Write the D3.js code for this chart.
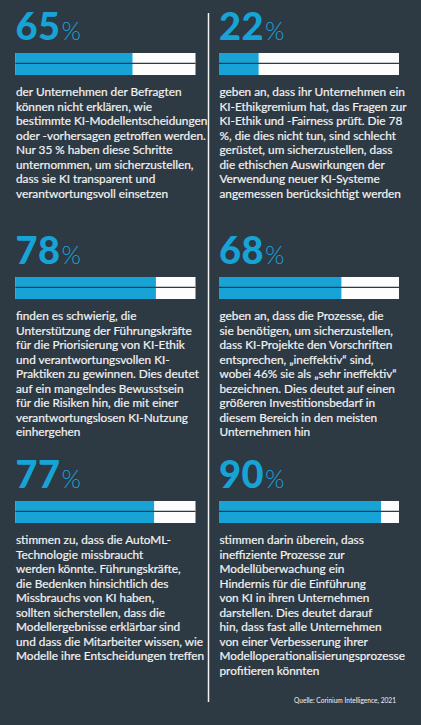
<!DOCTYPE html>
<html>
<head>
<meta charset="utf-8">
<script src="https://cdn.jsdelivr.net/npm/d3@7"></script>
<style>
  body { margin: 0; background: #2d3943; }
  svg { display: block; }
  .num { font-family: Lato, sans-serif; font-weight: 900; fill: #17a3d6; }
  .pct { font-family: Lato, sans-serif; font-weight: 300; fill: #17a3d6; }
  .body-text { font-family: Lato, sans-serif; fill: #f2f2f2; stroke: #f2f2f2; stroke-width: 0.2; }
  .source { font-family: Lato, sans-serif; fill: #f2f2f2; }
</style>
</head>
<body>
<div id="chart"></div>
<script>
// values shown in the six panels (percent)
const values = [65, 22, 78, 68, 77, 90];

// description under each bar, one entry per line as in the original
const texts = [
  ["der Unternehmen der Befragten",
   "können nicht erklären, wie",
   "bestimmte KI-Modellentscheidungen",
   "oder -vorhersagen getroffen werden.",
   "Nur 35 % haben diese Schritte",
   "unternommen, um sicherzustellen,",
   "dass sie KI transparent und",
   "verantwortungsvoll einsetzen"],
  ["geben an, dass ihr Unternehmen ein",
   "KI-Ethikgremium hat, das Fragen zur",
   "KI-Ethik und -Fairness prüft. Die 78",
   "%, die dies nicht tun, sind schlecht",
   "gerüstet, um sicherzustellen, dass",
   "die ethischen Auswirkungen der",
   "Verwendung neuer KI-Systeme",
   "angemessen berücksichtigt werden"],
  ["finden es schwierig, die",
   "Unterstützung der Führungskräfte",
   "für die Priorisierung von KI-Ethik",
   "und verantwortungsvollen KI-",
   "Praktiken zu gewinnen. Dies deutet",
   "auf ein mangelndes Bewusstsein",
   "für die Risiken hin, die mit einer",
   "verantwortungslosen KI-Nutzung",
   "einhergehen"],
  ["geben an, dass die Prozesse, die",
   "sie benötigen, um sicherzustellen,",
   "dass KI-Projekte den Vorschriften",
   "entsprechen, „ineffektiv“ sind,",
   "wobei 46% sie als „sehr ineffektiv“",
   "bezeichnen. Dies deutet auf einen",
   "größeren Investitionsbedarf in",
   "diesem Bereich in den meisten",
   "Unternehmen hin"],
  ["stimmen zu, dass die AutoML-",
   "Technologie missbraucht",
   "werden könnte. Führungskräfte,",
   "die Bedenken hinsichtlich des",
   "Missbrauchs von KI haben,",
   "sollten sicherstellen, dass die",
   "Modellergebnisse erklärbar sind",
   "und dass die Mitarbeiter wissen, wie",
   "Modelle ihre Entscheidungen treffen"],
  ["stimmen darin überein, dass",
   "ineffiziente Prozesse zur",
   "Modellüberwachung ein",
   "Hindernis für die Einführung",
   "von KI in ihren Unternehmen",
   "darstellen. Dies deutet darauf",
   "hin, dass fast alle Unternehmen",
   "von einer Verbesserung ihrer",
   "Modelloperationalisierungsprozesse",
   "profitieren könnten"]
];

const source = "Quelle: Corinium Intelligence, 2021";

const width = 421,
    height = 725,
    colX = [15.5, 219],
    rowY = [0, 224, 448],
    barW = 180,
    barH = 22,
    lineH = 14.5,
    blue = "#17a3d6",
    bg = "#2d3943";

const svg = d3.select("#chart").append("svg")
    .attr("width", width)
    .attr("height", height);

svg.append("rect")
    .attr("width", width)
    .attr("height", height)
    .attr("fill", bg);

// x scale for the bars
const xScale = d3.scaleLinear().domain([0, 100]).range([0, barW]);

// vertical divider between the columns
svg.append("line")
    .attr("x1", 208.5).attr("x2", 208.5)
    .attr("y1", 13).attr("y2", 702)
    .attr("stroke", "#f2f2f2")
    .attr("stroke-width", 1.5);

const panels = svg.selectAll("g.panel")
    .data(values.map((v, i) => ({value: v, lines: texts[i], i: i})))
    .enter().append("g")
    .attr("class", "panel")
    .attr("transform", (d) => "translate(" + colX[d.i % 2] + "," + rowY[Math.floor(d.i / 2)] + ")");

// big number
const num = panels.append("text")
    .attr("x", 0)
    .attr("y", 40);
num.append("tspan")
    .attr("class", "num")
    .attr("font-size", 38)
    .attr("letter-spacing", 0.5)
    .text((d) => d.value);
num.append("tspan")
    .attr("class", "pct")
    .attr("font-size", 25)
    .attr("dx", 1)
    .text("%");

// bar: white track, blue value, thin dark split in the middle
panels.append("rect")
    .attr("x", xScale(0))
    .attr("y", 53)
    .attr("width", xScale(100))
    .attr("height", barH)
    .attr("fill", "#fdfdfd");

panels.append("rect")
    .attr("x", xScale(0))
    .attr("y", 53)
    .attr("width", (d) => xScale(d.value))
    .attr("height", barH)
    .attr("fill", blue);

panels.append("line")
    .attr("x1", xScale(0))
    .attr("x2", xScale(100))
    .attr("y1", 63.3)
    .attr("y2", 63.3)
    .attr("stroke", bg)
    .attr("stroke-width", 1.2);

// description
panels.append("text")
    .attr("class", "body-text")
    .attr("font-size", 11.8)
    .selectAll("tspan")
    .data((d) => d.lines)
    .enter().append("tspan")
    .attr("x", 0.5)
    .attr("y", (d, j) => 96 + j * lineH)
    .text((d) => d);

svg.append("text")
    .attr("class", "source")
    .attr("x", 396)
    .attr("y", 703)
    .attr("text-anchor", "end")
    .attr("font-size", 6.6)
    .text(source);
</script>
</body>
</html>
